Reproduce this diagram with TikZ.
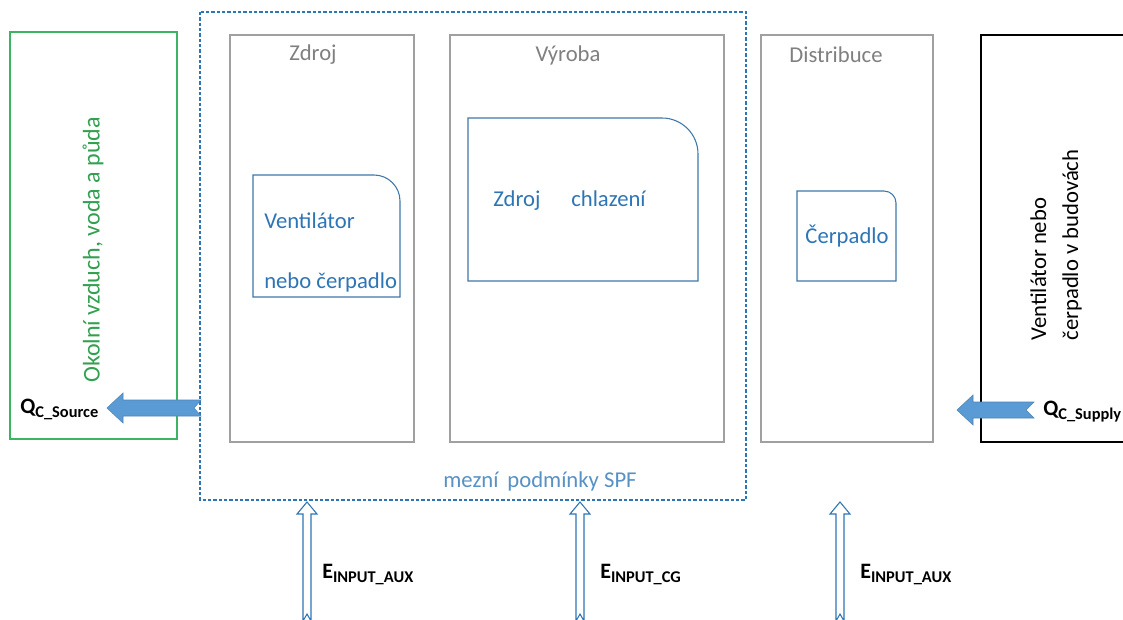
\documentclass[tikz,border=0pt]{standalone}
\usepackage{fontspec}
\setmainfont{Carlito}
\definecolor{boxgray}{RGB}{160,160,160}
\definecolor{labgray}{RGB}{128,128,128}
\definecolor{spfblue}{RGB}{46,117,182}
\definecolor{txtblue}{RGB}{46,117,182}
\definecolor{arrblue}{RGB}{91,155,213}
\definecolor{envgreen}{RGB}{60,180,100}
\definecolor{envtxt}{RGB}{50,160,80}
\begin{document}
\begin{tikzpicture}[x=0.75pt,y=-0.75pt,
  graybox/.style={draw=boxgray,line width=0.8pt},
  innerbox/.style={draw=txtblue!80!gray,line width=0.8pt},
  lab/.style={font=\fontsize{17}{20}\selectfont,text=labgray,inner sep=0pt},
  inner/.style={font=\fontsize{17}{20}\selectfont,text=txtblue,inner sep=0pt},
  qlab/.style={font=\bfseries\fontsize{16}{18}\selectfont,inner sep=0pt},
  fatarrow/.style={fill=arrblue,draw=arrblue!85!black,line width=0.4pt},
  hollowarrow/.style={fill=white,draw=spfblue,line width=0.8pt}]
\clip (0,0) rectangle (1123,619);
\fill[white] (0,0) rectangle (1123,619);

% environment box
\draw[draw=envgreen,line width=0.8pt] (10,32) rectangle (177,439);
\node[rotate=90,font=\fontsize{18}{21}\selectfont,text=envtxt,inner sep=0pt] (env) at (93,250) {Okolní vzduch, voda a půda};

% SPF boundary
\draw[draw=spfblue,dashed,dash pattern=on 2.5pt off 1.5pt,line width=0.8pt] (200,12) rectangle (746,500);
\node[font=\fontsize{17}{20}\selectfont,text=txtblue!80!white,inner sep=0pt] (spf) at (540,481) {mezní\, podmínky SPF};

% three columns
\draw[graybox] (230,35) rectangle (414,442);
\node[lab] (zdroj) at (313,55) {Zdroj};
\draw[graybox] (450,35) rectangle (724,442);
\node[lab] (vyroba) at (568,55) {Výroba};
\draw[graybox] (761,35) rectangle (933,442);
\node[lab] (distr) at (836,55) {Distribuce};

% building box
\draw[draw=black,line width=0.8pt] (981,35) rectangle (1140,442);
\node[rotate=90,font=\fontsize{17}{20}\selectfont,align=left,inner sep=0pt] (bld) at (1056,245) {Ventilátor nebo\\[4pt]čerpadlo v budovách};

% inner boxes
\draw[innerbox] (253,175) -- (374,175) arc[start angle=-90,end angle=0,radius=26] -- (400,297) -- (253,297) -- cycle;
\node[inner,anchor=base west] (vent) at (264,228) {Ventilátor};
\node[inner,anchor=base west] (nebo) at (264,288) {nebo čerpadlo};

\draw[innerbox] (468,118) -- (662,118) arc[start angle=-90,end angle=0,radius=36] -- (698,281) -- (468,281) -- cycle;
\node[inner,anchor=base west] (zch) at (493,206) {Zdroj};
\node[inner,anchor=base west] (chl) at (571,206) {chlazení};

\draw[innerbox] (797,191) -- (884,191) arc[start angle=-90,end angle=0,radius=12] -- (896,281) -- (797,281) -- cycle;
\node[inner] (cerp) at (847,236) {Čerpadlo};

% Q source arrow
\fill[fatarrow] (201,400) -- (123,400) -- (123,393) -- (107,408) -- (123,423) -- (123,416) -- (201,416) -- (194,408) -- cycle;
\node[qlab,anchor=base west] (qsrc) at (20,413) {\fontsize{16.5}{18}\selectfont Q\raisebox{-3.5pt}{\fontsize{12.3}{14}\selectfont C\_Source}};

% Q supply arrow
\fill[fatarrow] (1034,402) -- (973,402) -- (973,395) -- (957,410) -- (973,425) -- (973,418) -- (1034,418) -- (1026,410) -- cycle;
\node[qlab,anchor=base west] (qsup) at (1043,415) {\fontsize{16.5}{18}\selectfont Q\raisebox{-3.5pt}{\fontsize{12.3}{14}\selectfont C\_Supply}};

% vertical input arrows
\foreach \xx/\nm in {307/a1,580/a2,840/a3}{
  \draw[hollowarrow] (\xx-4,621) -- (\xx-4,514) -- (\xx-10,514) -- (\xx,502) -- (\xx+10,514) -- (\xx+4,514) -- (\xx+4,621) -- (\xx,614) -- cycle;
}
\node[qlab,anchor=base west] (e1) at (322,578) {\fontsize{16.5}{18}\selectfont E\raisebox{-3.5pt}{\fontsize{12.3}{14}\selectfont INPUT\_AUX}};
\node[qlab,anchor=base west] (e2) at (600,578) {\fontsize{16.5}{18}\selectfont E\raisebox{-3.5pt}{\fontsize{12.3}{14}\selectfont INPUT\_CG}};
\node[qlab,anchor=base west] (e3) at (860,578) {\fontsize{16.5}{18}\selectfont E\raisebox{-3.5pt}{\fontsize{12.3}{14}\selectfont INPUT\_AUX}};
\end{tikzpicture}
\end{document}
